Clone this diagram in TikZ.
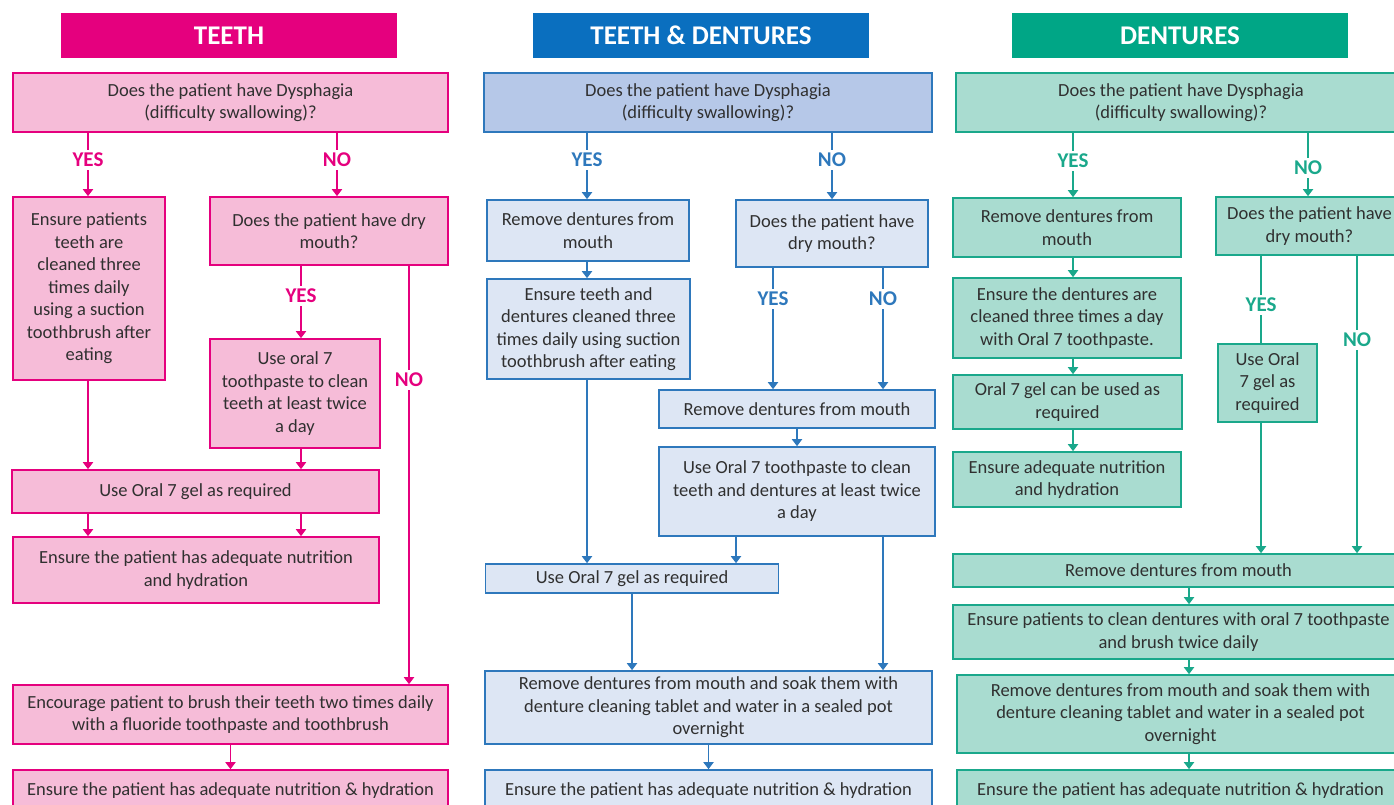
\documentclass[tikz,border=0pt]{standalone}
\usepackage{fontspec}
\setmainfont{Carlito}
\usetikzlibrary{arrows.meta}
\definecolor{txt}{HTML}{303030}
\definecolor{pk}{HTML}{E5007E}
\definecolor{pkl}{HTML}{F6BCD8}
\definecolor{bl}{HTML}{0A6FBF}
\definecolor{bll}{HTML}{2E78BC}
\definecolor{blq}{HTML}{B6C8E8}
\definecolor{blb}{HTML}{DDE6F4}
\definecolor{tl}{HTML}{00A686}
\definecolor{tll}{HTML}{1AA88B}
\definecolor{tlb}{HTML}{A9DCD0}
\begin{document}
\begin{tikzpicture}[x=1pt,y=-1pt,
    every node/.style={font=\fontsize{18.5}{22.5}\selectfont, text=txt},
    box/.style={draw, line width=1.6pt, align=center, inner sep=0pt},
    head/.style={inner sep=0pt, text=white, font=\fontsize{27}{30}\selectfont\bfseries},
    lbl/.style={font=\fontsize{21}{22}\selectfont\bfseries, inner sep=3pt},
    pinkbox/.style={box, draw=pk, fill=pkl},
    bluebox/.style={box, draw=bll, fill=blb},
    tealbox/.style={box, draw=tll, fill=tlb},
    link/.style={line width=1.8pt},
    arr/.style={link, -{Triangle[width=10pt,length=7pt]}}]
    \useasboundingbox (0,0) rectangle (1394,805);

    % teeth
    \draw (229,35.5) node[head, fill=pk, minimum width=336, minimum height=45](h1){TEETH};
    \draw (230.5,102.5) node[pinkbox, minimum width=435, minimum height=59](q1){Does the patient have Dysphagia\\(difficulty swallowing)?};
    \draw (88,160) node[lbl, text=pk](y1){YES};
    \draw (337,160) node[lbl, text=pk](n1){NO};
    \draw (89,288.5) node[pinkbox, minimum width=152, minimum height=183](a1){Ensure patients\\teeth are\\cleaned three\\times daily\\using a suction\\toothbrush after\\eating};
    \draw (329,231) node[pinkbox, minimum width=238, minimum height=68](b1){Does the patient have dry\\mouth?};
    \draw (301,296) node[lbl, text=pk](y2){YES};
    \draw (409,380) node[lbl, text=pk](n2){NO};
    \draw (295,393.5) node[pinkbox, minimum width=170, minimum height=109](c1){Use oral 7\\toothpaste to clean\\teeth at least twice\\a day};
    \draw (195.5,491.5) node[pinkbox, minimum width=367, minimum height=43](d1){Use Oral 7 gel as required};
    \draw (196,570) node[pinkbox, minimum width=366, minimum height=66](e1){Ensure the patient has adequate nutrition\\and hydration};
    \draw (230.5,714.5) node[pinkbox, minimum width=435, minimum height=59](f1){Encourage patient to brush their teeth two times daily\\with a fluoride toothpaste and toothbrush};
    \draw (230.5,791) node[pinkbox, minimum width=435, minimum height=42](g1){Ensure the patient has adequate nutrition \& hydration};
    \path[pk, link]
      (q1.south -| y1) edge (y1.north)
      (q1.south -| n1) edge (n1.north)
      (b1.south -| y2) edge (y2.north)
      (b1.south -| n2) edge (n2.north)
    ;
    \path[pk, arr]
      (y1.south) edge (a1.north -| y1)
      (n1.south) edge (b1.north -| n1)
      (y2.south) edge (c1.north -| y2)
      (n2.south) edge (f1.north -| n2)
      (a1.south -| y1) edge (d1.north -| y1)
      (c1.south -| y2) edge (d1.north -| y2)
      (d1.south -| y1) edge (e1.north -| y1)
      (d1.south -| y2) edge (e1.north -| y2)
      (f1.south) edge (g1.north)
    ;

    % teeth and dentures
    \draw (701,35.5) node[head, fill=bl, minimum width=336, minimum height=45](h2){TEETH \& DENTURES};
    \draw (708,102.5) node[box, draw=bll, fill=blq, minimum width=448, minimum height=59](q2){Does the patient have Dysphagia\\(difficulty swallowing)?};
    \draw (587,160) node[lbl, text=bll](y3){YES};
    \draw (832,160) node[lbl, text=bll](n3){NO};
    \draw (588,230.5) node[bluebox, minimum width=202, minimum height=61](a2){Remove dentures from\\mouth};
    \draw (832,233.5) node[bluebox, minimum width=192, minimum height=67](b2){Does the patient have\\dry mouth?};
    \draw (588.5,329) node[bluebox, minimum width=203, minimum height=100](c2){Ensure teeth and\\dentures cleaned three\\times daily using suction\\toothbrush after eating};
    \draw (773,299) node[lbl, text=bll](y4){YES};
    \draw (883,299) node[lbl, text=bll](n4){NO};
    \draw (797,409) node[bluebox, minimum width=276, minimum height=38](d2){Remove dentures from mouth};
    \draw (797,491.5) node[bluebox, minimum width=276, minimum height=89](e2){Use Oral 7 toothpaste to clean\\teeth and dentures at least twice\\a day};
    \draw (632,578.5) node[bluebox, minimum width=293, minimum height=29](f2){Use Oral 7 gel as required};
    \draw (708.5,707.5) node[bluebox, minimum width=447, minimum height=73](g2){Remove dentures from mouth and soak them with\\denture cleaning tablet and water in a sealed pot\\overnight};
    \draw (708.5,791) node[bluebox, minimum width=447, minimum height=42](k2){Ensure the patient has adequate nutrition \& hydration};
    \coordinate (x2) at (736,0);
    \path[bll, link]
      (q2.south -| y3) edge (y3.north)
      (q2.south -| n3) edge (n3.north)
      (b2.south -| y4) edge (y4.north)
      (b2.south -| n4) edge (n4.north)
    ;
    \path[bll, arr]
      (y3.south) edge (a2.north -| y3)
      (n3.south) edge (b2.north -| n3)
      (a2.south -| y3) edge (c2.north -| y3)
      (y4.south) edge (d2.north -| y4)
      (n4.south) edge (d2.north -| n4)
      (d2.south) edge (e2.north)
      (c2.south -| y3) edge (f2.north -| y3)
      (e2.south -| x2) edge (f2.north -| x2)
      (e2.south -| n4) edge (g2.north -| n4)
      (f2.south) edge (f2.south |- g2.north)
      (g2.south) edge (k2.north)
    ;

    % dentures
    \draw (1180,35.5) node[head, fill=tl, minimum width=336, minimum height=45](h3){DENTURES};
    \draw (1181,102.5) node[tealbox, minimum width=450, minimum height=59](q3){Does the patient have Dysphagia\\(difficulty swallowing)?};
    \draw (1073,161) node[lbl, text=tll](y5){YES};
    \draw (1308,168) node[lbl, text=tll](n5){NO};
    \draw (1067,227.5) node[tealbox, minimum width=228, minimum height=59](a3){Remove dentures from\\mouth};
    \draw (1309.5,226) node[tealbox, minimum width=187, minimum height=58](b3){Does the patient have\\dry mouth?};
    \draw (1067,318) node[tealbox, minimum width=228, minimum height=80](c3){Ensure the dentures are\\cleaned three times a day\\with Oral 7 toothpaste.};
    \draw (1067.5,402) node[tealbox, minimum width=229, minimum height=54](d3){Oral 7 gel can be used as\\required};
    \draw (1067,479.5) node[tealbox, minimum width=228, minimum height=55](e3){Ensure adequate nutrition\\and hydration};
    \draw (1261,305) node[lbl, text=tll](y6){YES};
    \draw (1357,340) node[lbl, text=tll](n6){NO};
    \draw (1267.5,383) node[tealbox, minimum width=99, minimum height=78](f3){Use Oral\\7 gel as\\required};
    \draw (1178.5,570.5) node[tealbox, minimum width=451, minimum height=33](g3){Remove dentures from mouth};
    \draw (1178.5,632) node[tealbox, minimum width=451, minimum height=54](k3){Ensure patients to clean dentures with oral 7 toothpaste\\and brush twice daily};
    \draw (1180.5,714) node[tealbox, minimum width=447, minimum height=78](m3){Remove dentures from mouth and soak them with\\denture cleaning tablet and water in a sealed pot\\overnight};
    \draw (1180.5,791) node[tealbox, minimum width=447, minimum height=42](p3){Ensure the patient has adequate nutrition \& hydration};
    \coordinate (x3) at (1189,0);
    \path[tll, link]
      (q3.south -| y5) edge (y5.north)
      (q3.south -| n5) edge (n5.north)
      (b3.south -| y6) edge (y6.north)
      (y6.south) edge (f3.north -| y6)
      (b3.south -| n6) edge (n6.north)
    ;
    \path[tll, arr]
      (y5.south) edge (a3.north -| y5)
      (n5.south) edge (b3.north -| n5)
      (a3.south -| y5) edge (c3.north -| y5)
      (c3.south -| y5) edge (d3.north -| y5)
      (d3.south -| y5) edge (e3.north -| y5)
      (f3.south -| y6) edge (g3.north -| y6)
      (n6.south) edge (g3.north -| n6)
      (g3.south -| x3) edge (k3.north -| x3)
      (k3.south -| x3) edge (m3.north -| x3)
      (m3.south -| x3) edge (p3.north -| x3)
    ;
\end{tikzpicture}
\end{document}
